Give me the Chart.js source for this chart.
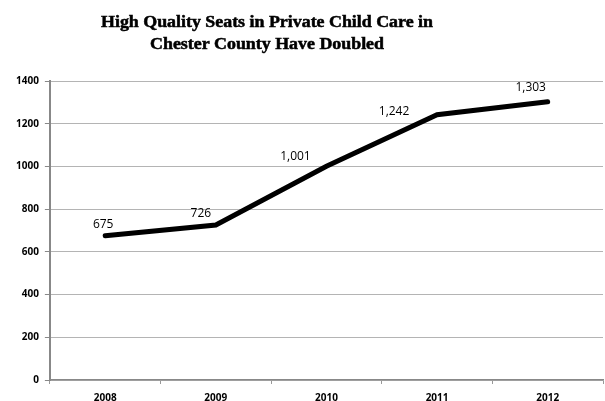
<!DOCTYPE html>
<html>
<head>
<meta charset="utf-8">
<script src="https://cdn.jsdelivr.net/npm/chart.js@4.4.1/dist/chart.umd.min.js"></script>
<style>
  html, body { margin: 0; padding: 0; background: #fff; }
  #wrap { width: 605px; height: 401px; }
</style>
</head>
<body>
<div id="wrap"><canvas id="myChart"></canvas></div>
<script>
const years = ['2008', '2009', '2010', '2011', '2012'];
const seats = [675, 726, 1001, 1242, 1303];
const yTicks = [0, 200, 400, 600, 800, 1000, 1200, 1400];
const titleLines = ['High Quality Seats in Private Child Care in', 'Chester County Have Doubled'];

// label nudges (px) relative to each point, like the Excel original
const labelDx = [-2, -15, -31, -43, -17];
const labelDy = [-11, -11, -10, -3, -14];

// Excel title: off-centre and set in a narrow slab serif, so draw it by hand
const titlePlugin = {
    id: 'excelTitle',
    afterDraw(chart) {
        const ctx = chart.ctx;
        ctx.save();
        ctx.font = 'bold 16px "Liberation Serif"';
        ctx.fillStyle = '#000';
        ctx.textAlign = 'center';
        ctx.textBaseline = 'alphabetic';
        const sx = 332 / ctx.measureText(titleLines[0]).width;
        ctx.translate(267, 0);
        ctx.scale(sx, 1);
        ctx.lineWidth = 0.5;
        ctx.strokeStyle = '#000';
        titleLines.forEach((t, i) => {
            ctx.fillText(t, 0, 27 + i * 22);
            ctx.strokeText(t, 0, 27 + i * 22);
        });
        ctx.restore();
    }
};

const pointLabels = {
    id: 'pointLabels',
    afterDatasetsDraw(chart) {
        const ctx = chart.ctx;
        const meta = chart.getDatasetMeta(0);
        ctx.save();
        ctx.font = '12px "Open Sans"';
        ctx.fillStyle = '#000';
        ctx.textAlign = 'center';
        ctx.textBaseline = 'middle';
        meta.data.forEach((pt, i) => {
            ctx.fillText(seats[i].toLocaleString('en-US'), pt.x + labelDx[i], pt.y + labelDy[i]);
        });
        ctx.restore();
    }
};

const config = {
    type: 'line',
    data: {
        labels: years,
        datasets: [{
            data: seats,
            borderColor: '#000',
            borderWidth: 5,
            borderCapStyle: 'round',
            borderJoinStyle: 'miter',
            pointRadius: 0,
            tension: 0,
            fill: false
        }]
    },
    options: {
        responsive: true,
        maintainAspectRatio: false,
        animation: false,
        layout: { padding: { left: 10, right: 2, top: 81, bottom: 0 } },
        plugins: {
            legend: { display: false },
            tooltip: { enabled: false },
            title: { display: false }
        },
        scales: {
            x: {
                offset: true,
                // labels sit low, close to the bottom edge
                afterFit(scale) { scale.height = 21; },
                grid: { display: true, offset: true, drawOnChartArea: false, drawTicks: true, tickLength: 4, color: '#999' },
                border: { color: '#888', width: 1.5 },
                ticks: { color: '#000', font: { family: '"Open Sans"', size: 10, weight: 'bold' }, padding: 8 }
            },
            y: {
                min: 0,
                max: 1400,
                afterBuildTicks(axis) { axis.ticks = yTicks.map(v => ({ value: v })); },
                grid: { color: '#b4b4b4', lineWidth: 1, tickLength: 5, tickColor: '#888' },
                border: { color: '#888', width: 2 },
                ticks: {
                    color: '#000',
                    font: { family: '"Open Sans"', size: 10, weight: 'bold' },
                    padding: 6,
                    callback: v => String(v)
                }
            }
        }
    },
    plugins: [pointLabels, titlePlugin]
};

const myChart = new Chart(document.getElementById('myChart'), config);
</script>
</body>
</html>
